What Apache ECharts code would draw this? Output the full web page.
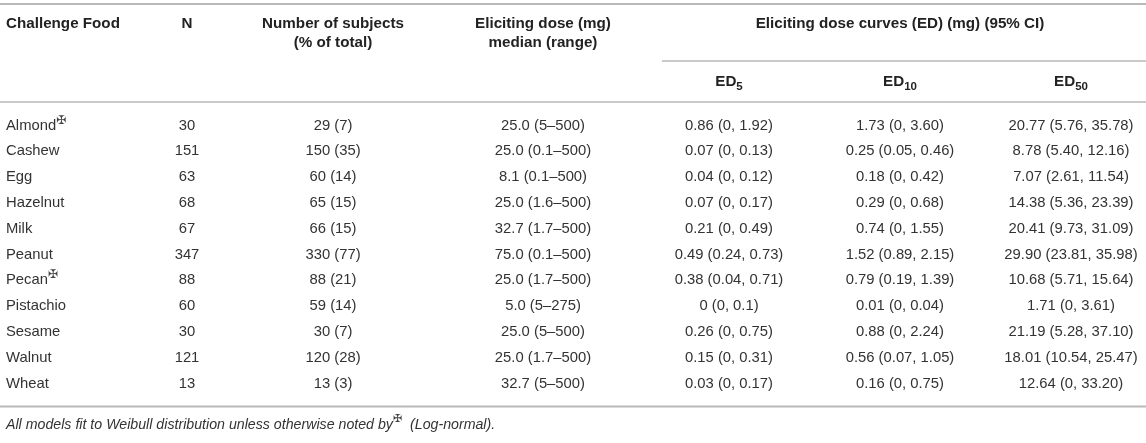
<!DOCTYPE html>
<html>
<head>
<meta charset="utf-8">
<script src="https://cdn.jsdelivr.net/npm/echarts@6/dist/echarts.min.js"></script>
<style>
html,body{margin:0;padding:0;background:#fff;}
#chart{width:1146px;height:443px;}
</style>
</head>
<body>
<div id="chart"></div>
<script>
// ---------------- DATA ----------------
var foods = ['Almond','Cashew','Egg','Hazelnut','Milk','Peanut','Pecan','Pistachio','Sesame','Walnut','Wheat'];
var logNormal = [true,false,false,false,false,false,true,false,false,false,false];
var nValues = [30,151,63,68,67,347,88,60,30,121,13];
var subjects = ['29 (7)','150 (35)','60 (14)','65 (15)','66 (15)','330 (77)','88 (21)','59 (14)','30 (7)','120 (28)','13 (3)'];
var medianDose = ['25.0 (5–500)','25.0 (0.1–500)','8.1 (0.1–500)','25.0 (1.6–500)','32.7 (1.7–500)','75.0 (0.1–500)','25.0 (1.7–500)','5.0 (5–275)','25.0 (5–500)','25.0 (1.7–500)','32.7 (5–500)'];
var ed5 = ['0.86 (0, 1.92)','0.07 (0, 0.13)','0.04 (0, 0.12)','0.07 (0, 0.17)','0.21 (0, 0.49)','0.49 (0.24, 0.73)','0.38 (0.04, 0.71)','0 (0, 0.1)','0.26 (0, 0.75)','0.15 (0, 0.31)','0.03 (0, 0.17)'];
var ed10 = ['1.73 (0, 3.60)','0.25 (0.05, 0.46)','0.18 (0, 0.42)','0.29 (0, 0.68)','0.74 (0, 1.55)','1.52 (0.89, 2.15)','0.79 (0.19, 1.39)','0.01 (0, 0.04)','0.88 (0, 2.24)','0.56 (0.07, 1.05)','0.16 (0, 0.75)'];
var ed50 = ['20.77 (5.76, 35.78)','8.78 (5.40, 12.16)','7.07 (2.61, 11.54)','14.38 (5.36, 23.39)','20.41 (9.73, 31.09)','29.90 (23.81, 35.98)','10.68 (5.71, 15.64)','1.71 (0, 3.61)','21.19 (5.28, 37.10)','18.01 (10.54, 25.47)','12.64 (0, 33.20)'];

var headerRow1 = ['Challenge Food','N','Number of subjects','Eliciting dose (mg)','Eliciting dose curves (ED) (mg) (95% CI)'];
var headerRow2 = ['','','(% of total)','median (range)',''];
var edLevels = ['5','10','50'];
var footnote = 'All models fit to Weibull distribution unless otherwise noted by';
var footnoteTail = '  (Log-normal).';
var markSymbol = '✠';

// ---------------- LAYOUT ----------------
var W = 1146, H = 443;
var firstRowPx = 125.5, rowStepPx = 25.8;
function py(px){ return (px - firstRowPx) / rowStepPx; } // pixel row -> axis value
var colX = [6, 187, 333, 543, 729, 900, 1071];
var groupCenterX = 900;
var hdr1Y = py(24), hdr2Y = py(43), edY = py(82), footY = py(425);
var rules = [
  [0, W, py(4), 2],
  [662, W, py(61), 1.5],
  [0, W, py(102), 1.5],
  [0, W, py(406.5), 2]
];

var FONT = "'Liberation Sans', Arial, Helvetica, sans-serif";
var FS = 14.8;
var TXT = '#333';
var HDR = '#222';
var RULE = '#b9b9b9';

// ---------------- CELLS ----------------
var cells = []; // [x, y, text, kind, align]
for (var i = 0; i < foods.length; i++) {
  cells.push([colX[0], i, foods[i] + (logNormal[i] ? '{sup|' + markSymbol + '}' : ''), 'body', 'left']);
  cells.push([colX[1], i, String(nValues[i]), 'body', 'center']);
  cells.push([colX[2], i, subjects[i], 'body', 'center']);
  cells.push([colX[3], i, medianDose[i], 'body', 'center']);
  cells.push([colX[4], i, ed5[i], 'body', 'center']);
  cells.push([colX[5], i, ed10[i], 'body', 'center']);
  cells.push([colX[6], i, ed50[i], 'body', 'center']);
}
var hdrXs = [colX[0], colX[1], colX[2], colX[3], groupCenterX];
for (var h = 0; h < headerRow1.length; h++) {
  cells.push([hdrXs[h], hdr1Y, headerRow1[h], 'head', h === 0 ? 'left' : 'center']);
  if (headerRow2[h]) cells.push([hdrXs[h], hdr2Y, headerRow2[h], 'head', 'center']);
}
for (var e = 0; e < edLevels.length; e++) {
  cells.push([colX[4 + e], edY, 'ED{sub|' + edLevels[e] + '}', 'head', 'center']);
}
cells.push([colX[0], footY, footnote + '{fsup|' + markSymbol + '}' + footnoteTail, 'foot', 'left']);

var chart = echarts.init(document.getElementById('chart'), null, {renderer: 'canvas'});
chart.setOption({
  backgroundColor: '#fff',
  animation: false,
  grid: {left: 0, right: 0, top: 0, bottom: 0},
  xAxis: {type: 'value', min: 0, max: W, show: false},
  yAxis: {type: 'value', inverse: true, min: py(0), max: py(H), show: false},
  series: [
    {
      type: 'custom',
      coordinateSystem: 'cartesian2d',
      data: rules,
      silent: true,
      renderItem: function (params, api) {
        var a = api.coord([api.value(0), api.value(2)]);
        var b = api.coord([api.value(1), api.value(2)]);
        var lw = api.value(3);
        return {type: 'line', shape: {x1: a[0], y1: a[1], x2: b[0], y2: b[1]},
          style: {stroke: RULE, lineWidth: lw}};
      }
    },
    {
      type: 'custom',
      coordinateSystem: 'cartesian2d',
      data: cells,
      silent: true,
      dimensions: ['x','y','text','kind','align'],
      encode: {x: 0, y: 1},
      renderItem: function (params, api) {
        var d = cells[params.dataIndex];
        var p = api.coord([d[0], d[1]]);
        var kind = d[3];
        var bold = kind === 'head';
        var italic = kind === 'foot';
        return {
          type: 'text',
          x: p[0], y: p[1],
          style: {
            text: d[2],
            fill: bold ? HDR : TXT,
            fontFamily: FONT,
            fontSize: italic ? 14.2 : (bold ? 15.2 : FS),
            fontWeight: bold ? 'bold' : 'normal',
            fontStyle: italic ? 'italic' : 'normal',
            lineHeight: 22,
            align: d[4],
            verticalAlign: 'middle',
            rich: {
              sup: {fontSize: 12, lineHeight: 15, verticalAlign: 'top', fill: '#444', fontFamily: "'DejaVu Sans', sans-serif"},
              fsup: {fontSize: 11, lineHeight: 15, verticalAlign: 'top', fill: '#444', fontFamily: "'DejaVu Sans', sans-serif"},
              sub: {fontSize: 11.5, lineHeight: 12, verticalAlign: 'bottom', fontWeight: 'bold', fill: HDR, fontFamily: FONT}
            }
          }
        };
      }
    }
  ]
});
</script>
</body>
</html>
